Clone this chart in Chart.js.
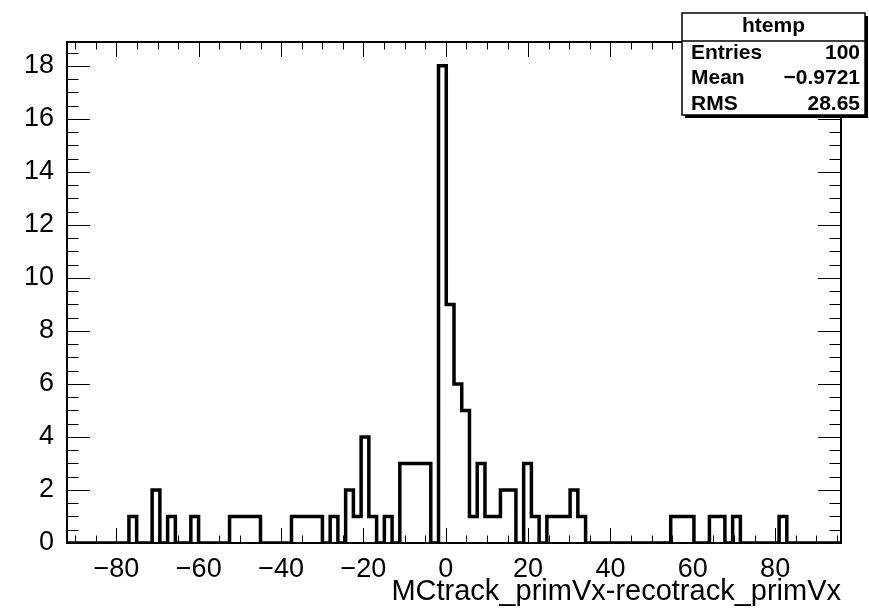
<!DOCTYPE html>
<html>
<head>
<meta charset="utf-8">
<script src="https://cdn.jsdelivr.net/npm/chart.js@4.4.1/dist/chart.umd.min.js"></script>
<style>
  html, body { margin: 0; padding: 0; background: #fff; }
  #wrap { width: 869px; height: 609px; }
</style>
</head>
<body>
<div id="wrap"><canvas id="hist" width="869" height="609"></canvas></div>
<script>
// histogram binning (100 bins, like ROOT's htemp)
const xMin = -92;
const xMax = 96;
const nBins = 100;

// counts per bin
const binCounts = [
    0, 0, 0, 0, 0, 0, 0, 0, 1, 0,
    0, 2, 0, 1, 0, 0, 1, 0, 0, 0,
    0, 1, 1, 1, 1, 0, 0, 0, 0, 1,
    1, 1, 1, 0, 1, 0, 2, 1, 4, 1,
    0, 1, 0, 3, 3, 3, 3, 0, 18, 9,
    6, 5, 1, 3, 1, 1, 2, 2, 0, 3,
    1, 0, 1, 1, 1, 2, 1, 0, 0, 0,
    0, 0, 0, 0, 0, 0, 0, 0, 1, 1,
    1, 0, 0, 1, 1, 0, 1, 0, 0, 0,
    0, 0, 1, 0, 0, 0, 0, 0, 0, 0
];

const yMax = 18.9;
const xMajorStep = 20;
const xMinorStep = 5;
const yMajorStep = 2;
const yMinorStep = 0.5;

const axisTitle = 'MCtrack_primVx-recotrack_primVx';
const statName = 'htemp';
const statLabels = ['Entries', 'Mean', 'RMS'];
const statValues = ['100', '\u22120.9721', '28.65'];

const FONT = '"Liberation Sans", Arial, Helvetica, sans-serif';

// step outline: one point per bin edge
const binWidth = (xMax - xMin) / nBins;
const points = binCounts.map((c, i) => ({ x: xMin + i * binWidth, y: c }));
points.push({ x: xMax, y: binCounts[nBins - 1] });

function fmt(v) {
    return v < 0 ? '\u2212' + Math.abs(v) : String(v);
}

const rootFrame = {
    id: 'rootFrame',
    beforeDatasetsDraw(chart) {
        const { ctx, chartArea: a } = chart;
        const xs = chart.scales.x, ys = chart.scales.y;
        ctx.save();
        ctx.strokeStyle = '#000';
        ctx.lineWidth = 1;
        ctx.beginPath();
        for (let i = Math.ceil(xMin / xMinorStep); i * xMinorStep <= xMax; i++) {
            const v = i * xMinorStep;
            const px = Math.round(xs.getPixelForValue(v)) + 0.5;
            const len = Math.abs(v % xMajorStep) === 0 ? 15 : 7.5;
            ctx.moveTo(px, a.bottom); ctx.lineTo(px, a.bottom - len);
            ctx.moveTo(px, a.top); ctx.lineTo(px, a.top + len);
        }
        const per = Math.round(yMajorStep / yMinorStep);
        for (let i = 0; i * yMinorStep <= yMax; i++) {
            const py = Math.round(ys.getPixelForValue(i * yMinorStep)) + 0.5;
            const len = i % per === 0 ? 23 : 11.5;
            ctx.moveTo(a.left, py); ctx.lineTo(a.left + len, py);
            ctx.moveTo(a.right, py); ctx.lineTo(a.right - len, py);
        }
        ctx.stroke();
        ctx.lineWidth = 2;
        ctx.strokeRect(a.left, a.top, a.right - a.left, a.bottom - a.top);
        ctx.restore();
    },
    afterDraw(chart) {
        const ctx = chart.ctx;
        const bx = 682, by = 13, bw = 183, bh = 102, head = 28;
        ctx.save();
        ctx.fillStyle = '#000';
        ctx.fillRect(bx + 3, by + 3, bw, bh);
        ctx.fillStyle = '#fff';
        ctx.fillRect(bx, by, bw, bh);
        ctx.strokeStyle = '#000';
        ctx.lineWidth = 1.5;
        ctx.strokeRect(bx, by, bw, bh);
        ctx.beginPath();
        ctx.moveTo(bx, by + head); ctx.lineTo(bx + bw, by + head);
        ctx.stroke();

        ctx.fillStyle = '#000';
        ctx.textBaseline = 'middle';
        ctx.font = 'bold 21px ' + FONT;
        ctx.textAlign = 'center';
        ctx.fillText(statName, bx + bw / 2, by + 13);
        statLabels.forEach((lab, i) => {
            const ty = by + 40 + i * 25.5;
            ctx.textAlign = 'left';
            ctx.fillText(lab, bx + 9, ty);
            ctx.textAlign = 'right';
            ctx.fillText(statValues[i], bx + bw - 5, ty);
        });
        ctx.restore();
    }
};

new Chart(document.getElementById('hist'), {
    type: 'line',
    data: {
        datasets: [{
            data: points,
            stepped: true,
            borderColor: '#000',
            borderWidth: 3.5,
            pointRadius: 0,
            fill: false
        }]
    },
    options: {
        responsive: false,
        animation: false,
        layout: { padding: { top: 42, right: 28, left: 0, bottom: 0 } },
        plugins: { legend: { display: false }, tooltip: { enabled: false } },
        scales: {
            x: {
                type: 'linear',
                min: xMin,
                max: xMax,
                border: { display: false },
                grid: { display: false, drawTicks: false },
                ticks: {
                    stepSize: xMajorStep,
                    includeBounds: false,
                    maxRotation: 0,
                    autoSkip: false,
                    padding: 10,
                    color: '#000',
                    font: { family: FONT, size: 27 },
                    callback: v => fmt(v)
                },
                title: {
                    display: true,
                    text: axisTitle,
                    align: 'end',
                    color: '#000',
                    font: { family: FONT, size: 29 },
                    padding: { top: 0, bottom: 0 }
                },
                afterFit(scale) { scale.height = 66; }
            },
            y: {
                type: 'linear',
                min: 0,
                max: yMax,
                border: { display: false },
                grid: { display: false, drawTicks: false },
                ticks: {
                    stepSize: yMajorStep,
                    includeBounds: false,
                    padding: 13,
                    color: '#000',
                    font: { family: FONT, size: 27 },
                    callback: v => fmt(v)
                },
                afterFit(scale) { scale.width = 67; }
            }
        }
    },
    plugins: [rootFrame]
});
</script>
</body>
</html>
